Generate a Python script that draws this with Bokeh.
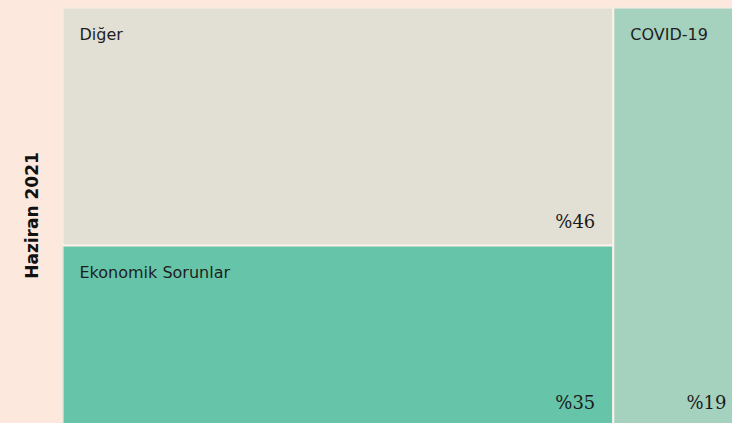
from bokeh.plotting import figure
from bokeh.models import Range1d, ColumnDataSource
from bokeh.core.properties import value
from bokeh.embed import file_html
from bokeh.resources import INLINE

# Data
categories = ["Diğer", "Ekonomik Sorunlar", "COVID-19"]
shares = [46, 35, 19]
pct_labels = ["%46", "%35", "%19"]
fill_colors = ["#e2e0d4", "#66c4a9", "#a5d2be"]
period_label = "Haziran 2021"

BG = "#fde8de"

# Treemap layout (x: 0..100 share, y: 0..1 top-down)
left_col = shares[0] + shares[1]
lefts = [0, 0, left_col]
rights = [left_col, left_col, 100]
tops = [0, shares[0] / left_col, 0]
bottoms = [shares[0] / left_col, 1, 1]

src = ColumnDataSource(dict(left=lefts, right=rights, top=tops, bottom=bottoms,
                            color=fill_colors, name=categories, pct=pct_labels))

p = figure(width=732, height=423, output_backend="svg", toolbar_location=None,
           x_range=Range1d(0, 98.53), y_range=Range1d(0.9928, 0),
           x_axis_location=None, min_border_left=62, min_border_right=0,
           min_border_top=7, min_border_bottom=0)
p.background_fill_color = BG
p.border_fill_color = BG
p.outline_line_color = None
p.grid.visible = False

p.quad(left="left", right="right", top="top", bottom="bottom", source=src,
       fill_color="color", line_color="#fdf0e9", line_width=2)

# category names
p.text(x="left", y="top", text="name", source=src, x_offset=17, y_offset=27,
       text_baseline="middle", text_align="left", text_font=value("DejaVu Sans"),
       text_font_size="16px", text_color="#1e1e1e")

# percentage labels
pct_src = ColumnDataSource(dict(x=rights, y=bottoms, pct=pct_labels, xo=[-18, -18, -16]))
p.text(x="x", y="y", text="pct", source=pct_src, x_offset="xo", y_offset=-24,
       text_baseline="alphabetic", text_align="right", text_font=value("DejaVu Serif"),
       text_font_size="18px", text_color="#1a1a1a")

p.yaxis.ticker = []
p.yaxis.axis_line_color = None
p.yaxis.major_tick_line_color = None
p.yaxis.minor_tick_line_color = None
p.yaxis.major_label_text_font_size = "0px"
p.yaxis.axis_label = period_label
p.yaxis.axis_label_text_font = "DejaVu Sans"
p.yaxis.axis_label_text_font_style = "bold"
p.yaxis.axis_label_text_font_size = "17px"
p.yaxis.axis_label_text_color = "#111111"
p.yaxis.axis_label_standoff = 21

html = file_html(p, INLINE)
html = html.replace("</head>", "<style>html,body{background:%s;overflow:hidden;}</style></head>" % BG, 1)
open("out.html", "w").write(html)
